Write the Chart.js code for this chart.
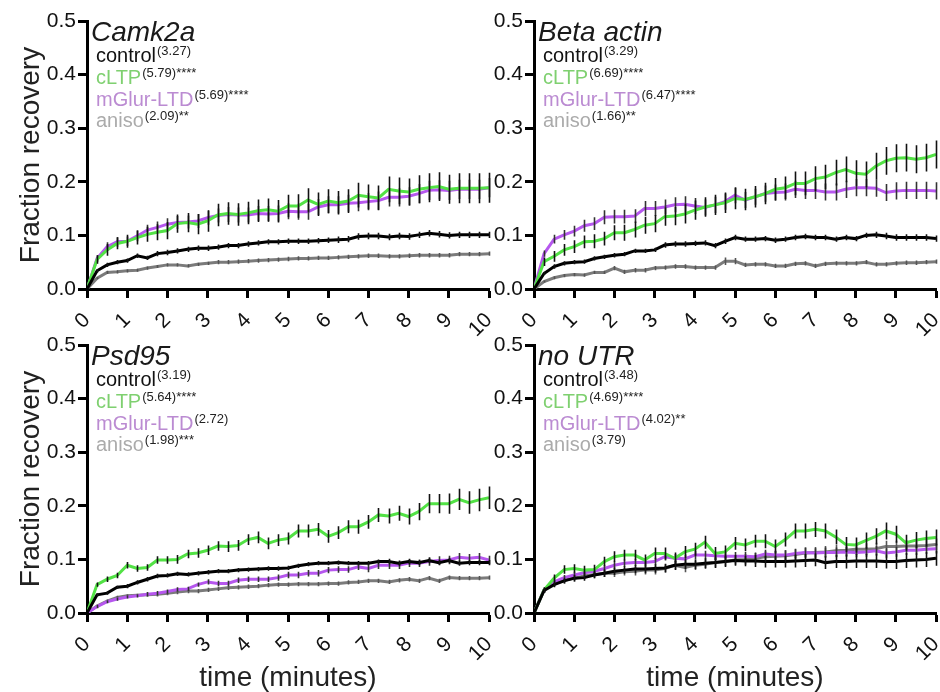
<!DOCTYPE html>
<html>
<head>
<meta charset="utf-8">
<script src="https://cdn.jsdelivr.net/npm/chart.js@4.4.1/dist/chart.umd.min.js"></script>
<style>
  html, body { margin: 0; padding: 0; background: #fff; }
  #wrap { position: relative; width: 940px; height: 692px; overflow: hidden; }
  canvas { position: absolute; }
</style>
</head>
<body>
<div id="wrap">
  <canvas id="camk2a" width="500" height="346" style="left:0;top:0"></canvas>
  <canvas id="actin" width="493" height="346" style="left:447px;top:0"></canvas>
  <canvas id="psd95" width="500" height="368" style="left:0;top:324px"></canvas>
  <canvas id="noutr" width="493" height="368" style="left:447px;top:324px"></canvas>
</div>
<script>
// time points (minutes)
var minutes = [0, 0.25, 0.5, 0.75, 1, 1.25, 1.5, 1.75, 2, 2.25, 2.5, 2.75, 3, 3.25, 3.5, 3.75, 4, 4.25, 4.5, 4.75, 5,
    5.25, 5.5, 5.75, 6, 6.25, 6.5, 6.75, 7, 7.25, 7.5, 7.75, 8, 8.25, 8.5, 8.75, 9, 9.25, 9.5, 9.75, 10];
var yTicks = [0, 0.1, 0.2, 0.3, 0.4, 0.5];
var groups = ['control', 'cLTP', 'mGlur-LTD', 'aniso'];

// Camk2a
var camk2aControl = [0, 0.034, 0.045, 0.050, 0.053, 0.062, 0.058, 0.066, 0.068, 0.071, 0.074, 0.076, 0.076, 0.078, 0.081, 0.081, 0.084, 0.086, 0.088, 0.088, 0.089,
    0.089, 0.089, 0.090, 0.091, 0.092, 0.093, 0.098, 0.099, 0.099, 0.097, 0.099, 0.098, 0.101, 0.104, 0.102, 0.100, 0.101, 0.101, 0.101, 0.101];
var camk2aLTP = [0, 0.055, 0.073, 0.085, 0.089, 0.096, 0.102, 0.106, 0.109, 0.122, 0.124, 0.121, 0.127, 0.138, 0.141, 0.139, 0.142, 0.146, 0.148, 0.145, 0.155,
    0.155, 0.166, 0.158, 0.164, 0.161, 0.164, 0.175, 0.172, 0.170, 0.186, 0.183, 0.181, 0.186, 0.189, 0.191, 0.186, 0.188, 0.188, 0.188, 0.189];
var camk2aLTD = [0, 0.057, 0.079, 0.088, 0.089, 0.099, 0.110, 0.115, 0.121, 0.124, 0.125, 0.127, 0.133, 0.137, 0.139, 0.138, 0.138, 0.141, 0.140, 0.141, 0.145,
    0.144, 0.144, 0.153, 0.157, 0.157, 0.160, 0.161, 0.163, 0.165, 0.171, 0.171, 0.173, 0.178, 0.184, 0.185, 0.184, 0.186, 0.186, 0.186, 0.189];
var camk2aAniso = [0, 0.020, 0.031, 0.032, 0.034, 0.035, 0.039, 0.042, 0.045, 0.045, 0.043, 0.046, 0.048, 0.050, 0.050, 0.051, 0.052, 0.053, 0.054, 0.055, 0.056,
    0.057, 0.057, 0.058, 0.058, 0.059, 0.060, 0.061, 0.062, 0.062, 0.061, 0.061, 0.062, 0.063, 0.063, 0.063, 0.063, 0.065, 0.065, 0.065, 0.066];
var camk2aControlErr = [0, 0.003, 0.004, 0.004, 0.004, 0.004, 0.004, 0.005, 0.005, 0.005, 0.005, 0.005, 0.005, 0.005, 0.005, 0.005, 0.005, 0.005, 0.005, 0.005, 0.005,
    0.005, 0.005, 0.005, 0.005, 0.006, 0.006, 0.006, 0.006, 0.006, 0.006, 0.006, 0.006, 0.006, 0.006, 0.006, 0.006, 0.006, 0.006, 0.006, 0.006];
var camk2aLTPErr = [0, 0.008, 0.011, 0.011, 0.012, 0.013, 0.014, 0.015, 0.016, 0.017, 0.018, 0.019, 0.020, 0.021, 0.021, 0.021, 0.021, 0.021, 0.021, 0.021, 0.021,
    0.022, 0.022, 0.022, 0.022, 0.022, 0.022, 0.023, 0.023, 0.023, 0.024, 0.025, 0.025, 0.026, 0.027, 0.027, 0.027, 0.028, 0.028, 0.028, 0.028];
var camk2aLTDErr = [0, 0.006, 0.008, 0.009, 0.009, 0.010, 0.010, 0.011, 0.011, 0.012, 0.012, 0.013, 0.013, 0.013, 0.014, 0.014, 0.014, 0.014, 0.015, 0.015, 0.015,
    0.015, 0.015, 0.015, 0.016, 0.016, 0.016, 0.016, 0.016, 0.017, 0.017, 0.017, 0.017, 0.018, 0.018, 0.018, 0.018, 0.018, 0.018, 0.018, 0.018];
var camk2aAnisoErr = [0, 0.002, 0.003, 0.003, 0.003, 0.003, 0.003, 0.003, 0.003, 0.003, 0.003, 0.003, 0.003, 0.004, 0.004, 0.004, 0.004, 0.004, 0.004, 0.004, 0.004,
    0.004, 0.004, 0.004, 0.004, 0.004, 0.004, 0.004, 0.004, 0.004, 0.004, 0.004, 0.004, 0.004, 0.004, 0.004, 0.004, 0.004, 0.004, 0.004, 0.004];

// Beta actin
var actinControl = [0, 0.029, 0.042, 0.048, 0.050, 0.051, 0.057, 0.060, 0.063, 0.065, 0.071, 0.071, 0.073, 0.082, 0.084, 0.084, 0.085, 0.086, 0.081, 0.089, 0.096,
    0.093, 0.093, 0.094, 0.091, 0.093, 0.096, 0.098, 0.096, 0.096, 0.093, 0.096, 0.094, 0.100, 0.101, 0.099, 0.096, 0.096, 0.096, 0.096, 0.094];
var actinLTP = [0, 0.051, 0.061, 0.073, 0.079, 0.088, 0.089, 0.094, 0.105, 0.105, 0.111, 0.119, 0.122, 0.135, 0.136, 0.140, 0.147, 0.153, 0.157, 0.161, 0.169,
    0.167, 0.172, 0.178, 0.186, 0.189, 0.197, 0.197, 0.206, 0.209, 0.217, 0.223, 0.216, 0.214, 0.229, 0.239, 0.244, 0.245, 0.242, 0.245, 0.251];
var actinLTD = [0, 0.066, 0.093, 0.101, 0.108, 0.118, 0.122, 0.134, 0.135, 0.135, 0.136, 0.150, 0.150, 0.153, 0.157, 0.158, 0.155, 0.152, 0.157, 0.163, 0.175,
    0.166, 0.172, 0.178, 0.180, 0.181, 0.186, 0.184, 0.184, 0.181, 0.181, 0.186, 0.189, 0.189, 0.188, 0.180, 0.183, 0.184, 0.184, 0.184, 0.183];
var actinAniso = [0, 0.014, 0.021, 0.025, 0.027, 0.026, 0.031, 0.031, 0.039, 0.032, 0.035, 0.035, 0.039, 0.040, 0.042, 0.042, 0.040, 0.040, 0.040, 0.052, 0.052,
    0.045, 0.046, 0.046, 0.043, 0.043, 0.047, 0.048, 0.043, 0.047, 0.048, 0.048, 0.048, 0.050, 0.046, 0.046, 0.048, 0.049, 0.049, 0.050, 0.051];
var actinControlErr = [0, 0.003, 0.004, 0.004, 0.004, 0.004, 0.004, 0.004, 0.004, 0.004, 0.004, 0.004, 0.004, 0.005, 0.005, 0.005, 0.005, 0.005, 0.005, 0.005, 0.005,
    0.005, 0.005, 0.005, 0.005, 0.005, 0.005, 0.005, 0.005, 0.005, 0.005, 0.005, 0.005, 0.005, 0.006, 0.006, 0.006, 0.006, 0.006, 0.006, 0.006];
var actinLTPErr = [0, 0.008, 0.010, 0.011, 0.012, 0.012, 0.013, 0.013, 0.014, 0.015, 0.015, 0.016, 0.016, 0.017, 0.017, 0.018, 0.018, 0.018, 0.019, 0.019, 0.020,
    0.020, 0.020, 0.020, 0.021, 0.021, 0.022, 0.022, 0.023, 0.023, 0.024, 0.024, 0.024, 0.024, 0.025, 0.026, 0.026, 0.026, 0.026, 0.026, 0.026];
var actinLTDErr = [0, 0.006, 0.008, 0.009, 0.010, 0.011, 0.012, 0.013, 0.013, 0.013, 0.013, 0.014, 0.014, 0.014, 0.014, 0.015, 0.015, 0.015, 0.015, 0.015, 0.015,
    0.015, 0.015, 0.015, 0.015, 0.016, 0.016, 0.016, 0.016, 0.016, 0.016, 0.016, 0.016, 0.016, 0.016, 0.016, 0.016, 0.016, 0.016, 0.016, 0.016];
var actinAnisoErr = [0, 0.002, 0.003, 0.003, 0.003, 0.003, 0.003, 0.003, 0.004, 0.004, 0.004, 0.004, 0.004, 0.004, 0.004, 0.004, 0.004, 0.004, 0.004, 0.007, 0.006,
    0.004, 0.004, 0.004, 0.004, 0.004, 0.004, 0.004, 0.004, 0.004, 0.004, 0.004, 0.004, 0.004, 0.004, 0.004, 0.004, 0.004, 0.004, 0.004, 0.004];

// Psd95
var psd95Control = [0, 0.034, 0.037, 0.048, 0.050, 0.057, 0.063, 0.069, 0.070, 0.073, 0.072, 0.074, 0.076, 0.078, 0.078, 0.080, 0.081, 0.082, 0.083, 0.083, 0.084,
    0.088, 0.091, 0.093, 0.093, 0.094, 0.093, 0.093, 0.093, 0.096, 0.096, 0.093, 0.096, 0.094, 0.098, 0.094, 0.098, 0.093, 0.094, 0.094, 0.094];
var psd95LTP = [0, 0.053, 0.063, 0.070, 0.089, 0.083, 0.085, 0.099, 0.099, 0.100, 0.110, 0.112, 0.117, 0.125, 0.124, 0.126, 0.137, 0.141, 0.130, 0.136, 0.139,
    0.153, 0.153, 0.156, 0.143, 0.150, 0.161, 0.161, 0.170, 0.183, 0.181, 0.186, 0.180, 0.189, 0.204, 0.204, 0.204, 0.212, 0.206, 0.211, 0.215];
var psd95LTD = [0, 0.012, 0.021, 0.026, 0.030, 0.032, 0.035, 0.037, 0.040, 0.044, 0.045, 0.053, 0.058, 0.055, 0.055, 0.061, 0.063, 0.063, 0.063, 0.066, 0.071,
    0.071, 0.074, 0.074, 0.080, 0.081, 0.081, 0.086, 0.083, 0.089, 0.089, 0.089, 0.093, 0.093, 0.096, 0.098, 0.099, 0.104, 0.102, 0.104, 0.099];
var psd95Aniso = [0, 0.013, 0.022, 0.029, 0.032, 0.033, 0.034, 0.035, 0.037, 0.039, 0.041, 0.041, 0.043, 0.045, 0.047, 0.048, 0.049, 0.050, 0.052, 0.053, 0.053,
    0.054, 0.054, 0.054, 0.055, 0.055, 0.057, 0.058, 0.060, 0.060, 0.058, 0.061, 0.063, 0.060, 0.065, 0.060, 0.066, 0.065, 0.065, 0.065, 0.066];
var psd95ControlErr = [0, 0.003, 0.003, 0.003, 0.004, 0.004, 0.004, 0.004, 0.004, 0.004, 0.004, 0.004, 0.004, 0.004, 0.004, 0.004, 0.004, 0.004, 0.004, 0.004, 0.004,
    0.004, 0.004, 0.004, 0.004, 0.004, 0.004, 0.004, 0.004, 0.004, 0.005, 0.005, 0.005, 0.005, 0.005, 0.005, 0.005, 0.005, 0.005, 0.005, 0.005];
var psd95LTPErr = [0, 0.004, 0.005, 0.005, 0.006, 0.006, 0.006, 0.007, 0.007, 0.008, 0.008, 0.009, 0.009, 0.009, 0.010, 0.010, 0.010, 0.011, 0.011, 0.011, 0.011,
    0.012, 0.012, 0.012, 0.012, 0.012, 0.012, 0.013, 0.013, 0.013, 0.014, 0.014, 0.015, 0.016, 0.018, 0.018, 0.019, 0.020, 0.021, 0.021, 0.021];
var psd95LTDErr = [0, 0.003, 0.003, 0.003, 0.003, 0.003, 0.004, 0.004, 0.004, 0.004, 0.004, 0.004, 0.005, 0.005, 0.005, 0.005, 0.005, 0.005, 0.005, 0.006, 0.006,
    0.006, 0.006, 0.006, 0.006, 0.006, 0.006, 0.006, 0.007, 0.007, 0.007, 0.007, 0.007, 0.007, 0.008, 0.008, 0.008, 0.008, 0.008, 0.008, 0.008];
var psd95AnisoErr = [0, 0.003, 0.003, 0.003, 0.003, 0.003, 0.003, 0.004, 0.004, 0.004, 0.004, 0.004, 0.004, 0.004, 0.004, 0.004, 0.004, 0.004, 0.004, 0.004, 0.004,
    0.004, 0.004, 0.004, 0.004, 0.004, 0.004, 0.004, 0.004, 0.004, 0.004, 0.004, 0.004, 0.004, 0.004, 0.004, 0.004, 0.004, 0.004, 0.004, 0.004];

// no UTR
var noUtrControl = [0, 0.042, 0.053, 0.060, 0.065, 0.066, 0.071, 0.074, 0.078, 0.080, 0.082, 0.082, 0.083, 0.084, 0.089, 0.091, 0.091, 0.093, 0.094, 0.096, 0.098,
    0.097, 0.097, 0.096, 0.096, 0.096, 0.097, 0.098, 0.099, 0.094, 0.096, 0.096, 0.097, 0.097, 0.097, 0.096, 0.096, 0.098, 0.099, 0.100, 0.102];
var noUtrLTP = [0, 0.043, 0.065, 0.081, 0.083, 0.080, 0.081, 0.096, 0.105, 0.108, 0.108, 0.099, 0.111, 0.111, 0.102, 0.114, 0.119, 0.132, 0.111, 0.114, 0.130,
    0.127, 0.134, 0.134, 0.124, 0.137, 0.153, 0.153, 0.156, 0.153, 0.142, 0.128, 0.127, 0.135, 0.143, 0.153, 0.147, 0.131, 0.136, 0.139, 0.141];
var noUtrLTD = [0, 0.043, 0.058, 0.066, 0.071, 0.075, 0.078, 0.083, 0.089, 0.093, 0.094, 0.094, 0.096, 0.105, 0.102, 0.101, 0.108, 0.108, 0.107, 0.106, 0.106,
    0.106, 0.105, 0.110, 0.108, 0.108, 0.111, 0.113, 0.112, 0.113, 0.113, 0.114, 0.113, 0.114, 0.116, 0.112, 0.114, 0.117, 0.117, 0.119, 0.120];
var noUtrAniso = [0, 0.043, 0.055, 0.061, 0.065, 0.069, 0.072, 0.074, 0.074, 0.077, 0.078, 0.080, 0.080, 0.083, 0.089, 0.085, 0.089, 0.091, 0.094, 0.096, 0.099,
    0.100, 0.102, 0.105, 0.106, 0.107, 0.109, 0.112, 0.113, 0.114, 0.116, 0.117, 0.119, 0.119, 0.120, 0.124, 0.124, 0.125, 0.125, 0.126, 0.128];
var noUtrControlErr = [0, 0.004, 0.005, 0.005, 0.006, 0.006, 0.006, 0.007, 0.007, 0.007, 0.008, 0.008, 0.008, 0.008, 0.009, 0.009, 0.009, 0.009, 0.010, 0.010, 0.010,
    0.010, 0.011, 0.011, 0.011, 0.011, 0.012, 0.012, 0.012, 0.012, 0.012, 0.013, 0.013, 0.013, 0.013, 0.013, 0.014, 0.014, 0.014, 0.014, 0.014];
var noUtrLTPErr = [0, 0.005, 0.007, 0.008, 0.008, 0.008, 0.009, 0.009, 0.010, 0.010, 0.010, 0.010, 0.011, 0.011, 0.011, 0.011, 0.012, 0.012, 0.012, 0.012, 0.012,
    0.012, 0.012, 0.013, 0.013, 0.013, 0.014, 0.014, 0.014, 0.014, 0.014, 0.014, 0.014, 0.015, 0.015, 0.016, 0.016, 0.015, 0.015, 0.015, 0.015];
var noUtrLTDErr = [0, 0.004, 0.005, 0.005, 0.006, 0.006, 0.006, 0.006, 0.007, 0.007, 0.007, 0.007, 0.007, 0.007, 0.008, 0.008, 0.008, 0.008, 0.008, 0.008, 0.008,
    0.008, 0.008, 0.008, 0.008, 0.009, 0.009, 0.009, 0.009, 0.009, 0.009, 0.009, 0.009, 0.009, 0.009, 0.009, 0.009, 0.009, 0.009, 0.009, 0.009];
var noUtrAnisoErr = [0, 0.004, 0.005, 0.006, 0.006, 0.006, 0.007, 0.007, 0.007, 0.007, 0.008, 0.008, 0.008, 0.008, 0.008, 0.009, 0.009, 0.009, 0.009, 0.009, 0.009,
    0.010, 0.010, 0.010, 0.010, 0.010, 0.010, 0.010, 0.010, 0.011, 0.011, 0.011, 0.011, 0.011, 0.011, 0.011, 0.011, 0.011, 0.011, 0.011, 0.011];

var lineColors = ['#000000', '#52e245', '#b657ee', '#7b7b7b'];
var textColors = ['#111111', '#7fd070', '#bb8bd2', '#ababab'];
var errColors = ['#111111', '#111111', '#333333', '#555555'];

Chart.defaults.font.family = '"Liberation Sans", Arial, Helvetica, sans-serif';
Chart.defaults.color = '#111';

// vertical error bars, drawn right after each line
var errorBarPlugin = {
    id: 'errorBars',
    afterDatasetDraw: function (chart, args) {
        var ds = chart.data.datasets[args.index];
        var ctx = chart.ctx;
        var xs = chart.scales.x, ys = chart.scales.y;
        ctx.save();
        ctx.strokeStyle = ds.errColor;
        ctx.lineWidth = 1.6;
        ctx.beginPath();
        ds.data.forEach(function (v, i) {
            var e = ds.err[i];
            if (!e) return;
            var px = Math.round(xs.getPixelForValue(minutes[i])) + 0.5;
            ctx.moveTo(px, ys.getPixelForValue(v - e));
            ctx.lineTo(px, ys.getPixelForValue(v + e));
        });
        ctx.stroke();
        ctx.restore();
    }
};

// italic gene name and the coloured group list with superscripts
var labelPlugin = {
    id: 'panelLabels',
    afterDraw: function (chart) {
        var o = chart.options.plugins.panelLabels;
        var ctx = chart.ctx;
        var left = chart.chartArea.left, top = chart.chartArea.top;
        ctx.save();
        ctx.textBaseline = 'alphabetic';
        ctx.textAlign = 'left';
        ctx.fillStyle = '#1a1a1a';
        ctx.font = 'italic 28px "Liberation Sans", Arial, sans-serif';
        ctx.fillText(o.title, left + 4, top + 20);
        var rows = [41, 63, 85, 106];
        groups.forEach(function (g, i) {
            var x = left + 9, y = top + rows[i];
            ctx.font = '20px "Liberation Sans", Arial, sans-serif';
            ctx.fillStyle = textColors[i];
            ctx.fillText(g, x, y);
            x += ctx.measureText(g).width + 1;
            ctx.font = '13px "Liberation Sans", Arial, sans-serif';
            ctx.fillStyle = '#222';
            ctx.fillText(o.notes[i], x, y - 7);
        });
        ctx.restore();
    }
};

function makePanel(id, title, notes, series, errs, showYTitle, showXTitle) {
    var datasets = series.map(function (s, i) {
        return {
            label: groups[i],
            data: s,
            err: errs[i],
            errColor: errColors[i],
            borderColor: lineColors[i],
            borderWidth: 3,
            pointRadius: 0,
            tension: 0,
            fill: false
        };
    });
    var xHeight = showXTitle ? 79 : 57;
    return new Chart(document.getElementById(id).getContext('2d'), {
        type: 'line',
        data: { labels: minutes, datasets: datasets },
        plugins: [errorBarPlugin, labelPlugin],
        options: {
            responsive: false,
            animation: false,
            devicePixelRatio: 1,
            layout: { padding: { top: 21, right: id === 'actin' || id === 'noutr' ? 4 : 11, left: 0, bottom: 0 } },
            plugins: {
                legend: { display: false },
                tooltip: { enabled: false },
                panelLabels: { title: title, notes: notes }
            },
            scales: {
                x: {
                    type: 'linear', min: 0, max: 10,
                    border: { color: '#000', width: 3 },
                    grid: { drawOnChartArea: false, tickLength: 9, tickWidth: 3, color: '#000' },
                    ticks: { stepSize: 1, minRotation: 45, maxRotation: 45, padding: 10, font: { size: 21 }, color: '#111' },
                    title: { display: showXTitle, text: 'time (minutes)', font: { size: 28 }, color: '#222', padding: { top: 0, bottom: -3 } },
                    afterFit: function (s) { s.height = xHeight; s.paddingLeft = 0; s.paddingRight = 0; }
                },
                y: {
                    min: 0, max: 0.5,
                    border: { color: '#000', width: 3 },
                    grid: { drawOnChartArea: false, tickLength: 9, tickWidth: 3, color: '#000' },
                    ticks: {
                        stepSize: 0.1, padding: 2, font: { size: 21 }, color: '#111',
                        callback: function (v) { return yTicks.indexOf(Math.round(v * 10) / 10) >= 0 ? v.toFixed(1) : ''; }
                    },
                    title: { display: showYTitle, text: 'Fraction recovery', font: { size: 28 }, color: '#222', padding: { top: 14, bottom: 0 } },
                    afterFit: function (s) { s.width = 87; }
                }
            }
        }
    });
}

makePanel('camk2a', 'Camk2a', ['(3.27)', '(5.79)****', '(5.69)****', '(2.09)**'],
    [camk2aControl, camk2aLTP, camk2aLTD, camk2aAniso],
    [camk2aControlErr, camk2aLTPErr, camk2aLTDErr, camk2aAnisoErr], true, false);
makePanel('actin', 'Beta actin', ['(3.29)', '(6.69)****', '(6.47)****', '(1.66)**'],
    [actinControl, actinLTP, actinLTD, actinAniso],
    [actinControlErr, actinLTPErr, actinLTDErr, actinAnisoErr], false, false);
makePanel('psd95', 'Psd95', ['(3.19)', '(5.64)****', '(2.72)', '(1.98)***'],
    [psd95Control, psd95LTP, psd95LTD, psd95Aniso],
    [psd95ControlErr, psd95LTPErr, psd95LTDErr, psd95AnisoErr], true, true);
makePanel('noutr', 'no UTR', ['(3.48)', '(4.69)****', '(4.02)**', '(3.79)'],
    [noUtrControl, noUtrLTP, noUtrLTD, noUtrAniso],
    [noUtrControlErr, noUtrLTPErr, noUtrLTDErr, noUtrAnisoErr], false, true);
</script>
</body>
</html>
